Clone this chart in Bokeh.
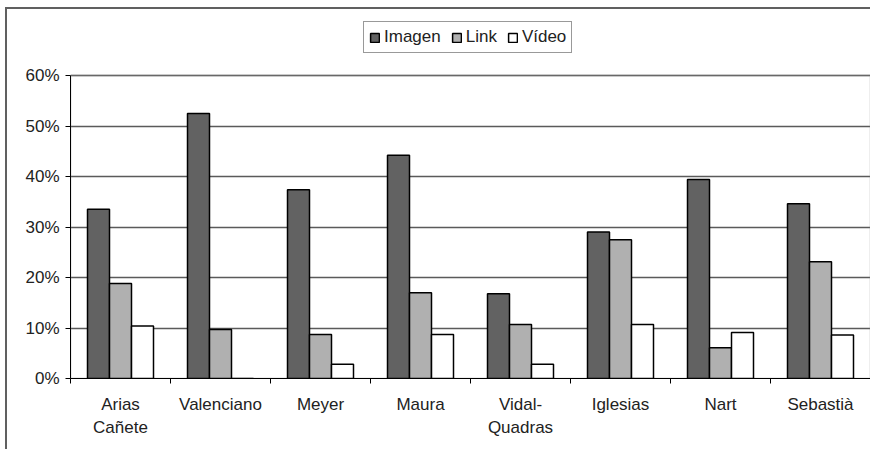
from bokeh.plotting import figure
from bokeh.models import (ColumnDataSource, Range1d, FixedTicker, NumeralTickFormatter,
                          Legend, LegendItem, BoxAnnotation)
from bokeh.transform import dodge
from bokeh.embed import file_html
from bokeh.resources import INLINE

categories = ["Arias\nCañete", "Valenciano", "Meyer", "Maura", "Vidal-\nQuadras",
              "Iglesias", "Nart", "Sebastià"]
series_names = ["Imagen", "Link", "Vídeo"]
imagen = [0.335, 0.525, 0.374, 0.442, 0.168, 0.290, 0.394, 0.346]
link = [0.188, 0.097, 0.087, 0.170, 0.107, 0.275, 0.061, 0.231]
video = [0.104, 0.0, 0.028, 0.087, 0.028, 0.107, 0.091, 0.086]
y_ticks = [0.0, 0.1, 0.2, 0.3, 0.4, 0.5, 0.6]
y_max = 0.6
y_view_max = 0.709   # extra room above the plot area for the legend

FONT = "Liberation Sans"
centers = [i + 0.5 for i in range(len(categories))]
source = ColumnDataSource(dict(x=centers, imagen=imagen, link=link, video=video))

p = figure(width=865, height=442, output_backend="svg", toolbar_location=None,
           x_range=Range1d(0, len(categories)), y_range=Range1d(0, y_view_max),
           min_border_left=63, min_border_right=2, min_border_top=11, min_border_bottom=73)
p.styles = {"border-left": "2px solid #606060", "border-top": "2px solid #606060",
            "margin-left": "5px", "margin-top": "7px"}
p.background_fill_color = "white"
p.border_fill_color = "white"
p.outline_line_color = None

# plot-area border (right side visible, gray)
p.add_layout(BoxAnnotation(left=0, right=len(categories), bottom=0, top=y_max,
                           fill_alpha=0, line_color="#8c8c8c", line_width=2, level="underlay"))

bw = 0.22
colors = ["#626262", "#b0b0b0", "#ffffff"]
fields = ["imagen", "link", "video"]
offsets = [-bw, 0.0, bw]
renderers = []
for f, c, o in zip(fields, colors, offsets):
    r = p.vbar(x=dodge("x", o, range=p.x_range), top=f, width=bw, bottom=0, source=source,
               fill_color=c, line_color="black", line_width=1.5)
    renderers.append(r)

# grid
p.xgrid.visible = False
p.ygrid.ticker = FixedTicker(ticks=y_ticks)
p.ygrid.grid_line_color = "#5a5a5a"
p.ygrid.grid_line_width = 1.5
p.ygrid.level = "underlay"

# y axis
ya = p.yaxis[0]
ya.ticker = FixedTicker(ticks=y_ticks)
ya.bounds = (0, y_max)
ya.formatter = NumeralTickFormatter(format="0%")
ya.major_tick_out = 5
ya.major_tick_in = 0
ya.minor_tick_out = 0
ya.minor_tick_in = 0
ya.axis_line_color = "black"
ya.major_tick_line_color = "black"
ya.major_label_text_font = FONT
ya.major_label_text_font_size = "17px"
ya.major_label_text_color = "#222222"
ya.major_label_standoff = 6

# x axis: labels at centers, ticks at category boundaries (minor ticks)
xa = p.xaxis[0]
xa.ticker = FixedTicker(ticks=centers, minor_ticks=list(range(len(categories) + 1)))
xa.major_label_overrides = {c: lab for c, lab in zip(centers, categories)}
xa.major_tick_out = 0
xa.major_tick_in = 0
xa.minor_tick_out = 5
xa.minor_tick_in = 0
xa.minor_tick_line_color = "black"
xa.axis_line_color = "black"
xa.major_label_text_font = FONT
xa.major_label_text_font_size = "17px"
xa.major_label_text_color = "#222222"
xa.major_label_text_line_height = 1.25
xa.major_label_standoff = 11

legend = Legend(items=[LegendItem(label=n, renderers=[r]) for n, r in zip(series_names, renderers)],
                orientation="horizontal", location=(293, 325),
                label_text_font=FONT, label_text_font_size="17px", label_text_color="#222222",
                glyph_width=11, glyph_height=11, label_standoff=4, spacing=10,
                padding=5, margin=0, border_line_color="#333333", border_line_width=1.5,
                background_fill_color="white", background_fill_alpha=1.0,
                label_height=20)
p.add_layout(legend, "center")

open("out.html", "w").write(file_html(p, INLINE))
